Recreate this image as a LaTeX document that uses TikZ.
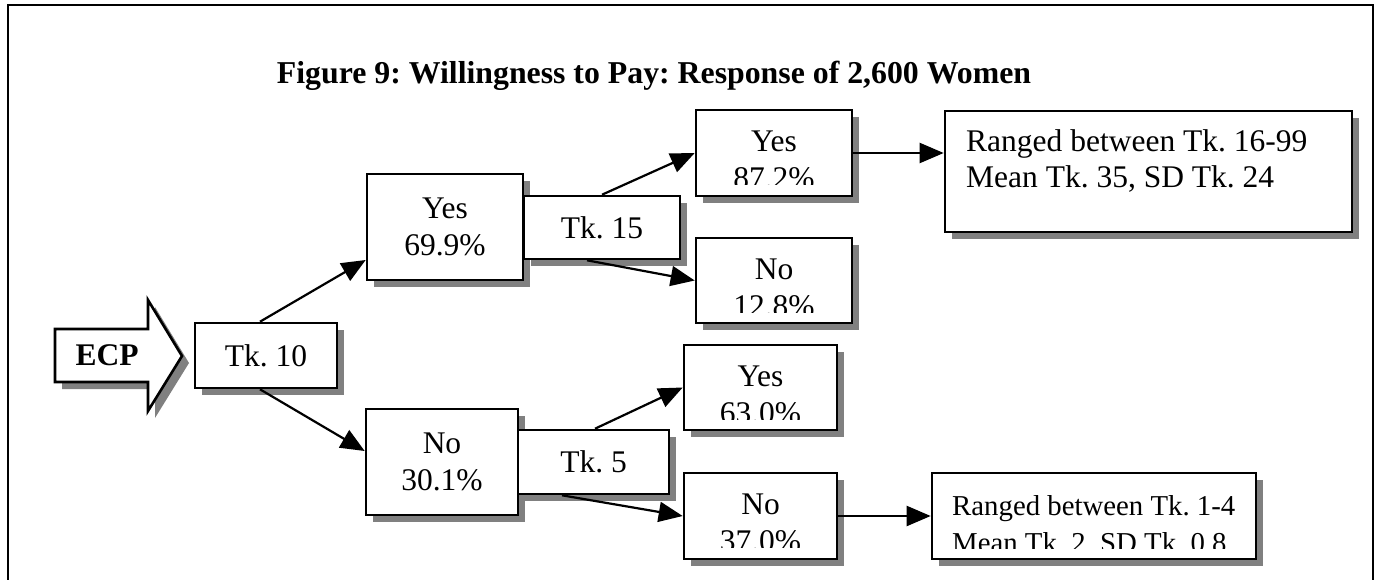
\documentclass[tikz,border=0pt]{standalone}
\usepackage{fontspec}
\setmainfont{Liberation Serif}
\usetikzlibrary{shadows,arrows.meta,calc}
\definecolor{shadowgray}{RGB}{128,128,128}
\newcommand{\bodyfont}{\frenchspacing\fontsize{31.5}{37}\selectfont}
\newcommand{\smallbodyfont}{\frenchspacing\fontsize{28.8}{34}\selectfont}
\tikzset{
  shadowed/.style={drop shadow={shadow xshift=7pt, shadow yshift=-7pt, fill=shadowgray, opacity=1}},
  box/.style={draw, line width=2.6pt, fill=white, inner sep=0pt, align=center, font=\bodyfont, shadowed},
  txt/.style={inner sep=0pt, font=\bodyfont},
  conn/.style={line width=2.2pt, -{Triangle[length=24pt,width=20pt]}},
}
\begin{document}
\begin{tikzpicture}[x=1pt,y=-1pt]
\useasboundingbox (0,0) rectangle (1379,579);
% outer frame (open at the bottom)
\draw[line width=2.5pt] (8,600) -- (8,5) -- (1373,5) -- (1373,600);
% title
\node[inner sep=0pt, font=\frenchspacing\bfseries\fontsize{31.8}{37}\selectfont, anchor=base] (title) at (654,83)
  {Figure 9: Willingness to Pay: Response of 2,600 Women};
% ECP arrow
\path[draw, line width=2.6pt, fill=white, shadowed]
  (55,329) -- (148,329) -- (148,300) -- (182,356) -- (148,411) -- (148,382) -- (55,382) -- cycle;
\node[txt, font=\bfseries\fontsize{31.5}{37}\selectfont] (ecp) at (107,355.5) {ECP};
% boxes
\node[box, minimum width=142pt, minimum height=65pt] (tk10) at (266,355.5) {Tk. 10};
\node[box, minimum width=156pt, minimum height=106pt] (yes1) at (445,227) {Yes\\69.9\%};
\node[box, minimum width=156pt, minimum height=63pt] (tk15) at (602,227.5) {Tk. 15};
\node[box, minimum width=152pt, minimum height=106pt] (no1) at (442,462) {No\\30.1\%};
\node[box, minimum width=151pt, minimum height=64pt] (tk5) at (593.5,462) {Tk. 5};
\node[box, minimum width=156pt, minimum height=86pt] (yes2) at (774,153) {};
\node[box, minimum width=156pt, minimum height=85pt] (no2) at (774,280.5) {};
\node[box, minimum width=153pt, minimum height=85pt] (yes3) at (760.5,387.5) {};
\node[box, minimum width=153pt, minimum height=86pt] (no3) at (760.5,516) {};
\node[box, minimum width=407pt, minimum height=121pt] (rng1) at (1148.5,171.5) {};
\node[box, minimum width=324pt, minimum height=86pt] (rng2) at (1094,516) {};
% texts of the answer boxes (cut off at the bottom as in the source)
\begin{scope}
  \clip (696,110) rectangle (852,184);
  \node[txt, anchor=base] (yes2a) at (774,151) {Yes};
  \node[txt, anchor=base] (yes2b) at (774,188) {87.2\%};
\end{scope}
\begin{scope}
  \clip (696,238) rectangle (852,312);
  \node[txt, anchor=base] (no2a) at (774,279) {No};
  \node[txt, anchor=base] (no2b) at (774,316) {12.8\%};
\end{scope}
\begin{scope}
  \clip (684,345) rectangle (837,419);
  \node[txt, anchor=base] (yes3a) at (760.5,386) {Yes};
  \node[txt, anchor=base] (yes3b) at (760.5,423) {63.0\%};
\end{scope}
\begin{scope}
  \clip (684,473) rectangle (837,547);
  \node[txt, anchor=base] (no3a) at (760.5,514) {No};
  \node[txt, anchor=base] (no3b) at (760.5,551) {37.0\%};
\end{scope}
\node[txt, anchor=base west] (rng1a) at (966,151) {Ranged between Tk. 16-99};
\node[txt, anchor=base west] (rng1b) at (966,187) {Mean Tk. 35, SD Tk. 24};
\begin{scope}
  \clip (932,473) rectangle (1256,548);
  \node[txt, font=\smallbodyfont, anchor=base west] (rng2a) at (952,515) {Ranged between Tk. 1-4};
  \node[txt, font=\smallbodyfont, anchor=base west] (rng2b) at (952,552) {Mean Tk. 2, SD Tk. 0.8};
\end{scope}
% connectors
\draw[conn] ([xshift=-6pt]tk10.north) -- ([yshift=-33pt]yes1.west);
\draw[conn] ([xshift=-6pt]tk10.south) -- ([yshift=11pt]no1.west);
\draw[conn] (tk15.north) -- (yes2.west);
\draw[conn] ([xshift=-15pt]tk15.south) -- (no2.west);
\draw[conn] (yes2.east) -- (yes2.east -| rng1.west);
\draw[conn] ([xshift=1.5pt]tk5.north) -- (yes3.west);
\draw[conn] ([xshift=-31.5pt]tk5.south) -- (no3.west);
\draw[conn] (no3.east) -- (no3.east -| rng2.west);
\end{tikzpicture}
\end{document}
